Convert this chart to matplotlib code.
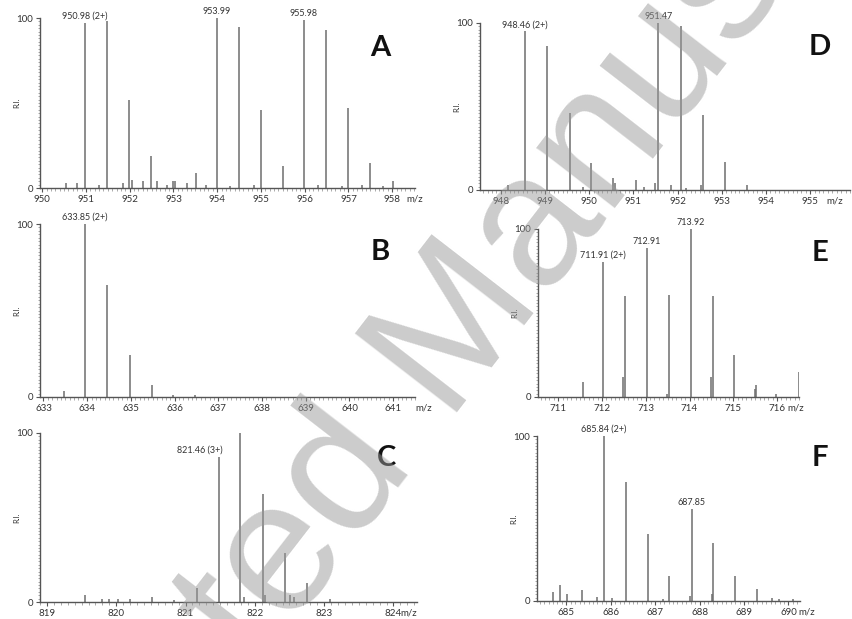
import numpy as np
import matplotlib
matplotlib.use("Agg")
import matplotlib.pyplot as plt
from matplotlib.ticker import MultipleLocator, FixedLocator

plt.rcParams['font.family'] = ['Lato', 'DejaVu Sans']

# ---- peak lists (m/z, relative intensity) ----
mzA = [950.55, 950.8, 950.98, 951.3, 951.48, 951.85, 951.98, 952.05, 952.3, 952.48,
       952.62, 952.85, 953.0, 953.03, 953.3, 953.52, 953.75, 953.99, 954.3, 954.49,
       954.85, 955.0, 955.51, 955.98, 956.3, 956.49, 956.85, 957.0, 957.3, 957.5,
       957.8, 958.02]
riA = [3, 3, 97, 2, 98, 3, 52, 5, 4, 19,
       4, 2, 4, 4, 3, 9, 2, 100, 1, 95,
       2, 46, 13, 99, 2, 93, 1, 47, 2, 15,
       1, 4]

mzB = [633.46, 633.95, 634.46, 634.97, 635.48, 635.97, 636.47]
riB = [3.5, 100, 65, 24.5, 7, 1, 1]

mzC = [819.55, 819.79, 819.89, 820.03, 820.2, 820.51, 820.83, 821.16, 821.48, 821.79,
       821.84, 822.12, 822.15, 822.43, 822.51, 822.56, 822.75, 823.09]
riC = [4, 2, 2, 2, 2, 3, 1, 8, 86, 100,
       3, 64, 4, 29, 4, 3, 11, 2]

mzD = [948.17, 948.55, 949.04, 949.56, 949.87, 950.05, 950.54, 950.59, 951.07, 951.24,
       951.5, 951.56, 951.84, 952.07, 952.18, 952.52, 952.57, 953.07, 953.56]
riD = [3, 95, 86, 46, 2, 16, 7, 4, 6, 2,
       4, 100, 3, 98, 1, 3, 45, 17, 3]

mzE = [711.56, 712.03, 712.48, 712.52, 713.03, 713.49, 713.53, 714.03, 714.5, 714.54,
       715.01, 715.49, 715.51, 715.98, 716.49]
riE = [9, 80.5, 12, 60, 88.5, 2, 61, 100, 12, 60,
       25, 5, 7, 2, 15]

mzF = [684.70, 684.86, 685.02, 685.35, 685.68, 685.84, 686.02, 686.34, 686.83, 687.18,
       687.32, 687.79, 687.82, 688.27, 688.31, 688.8, 689.3, 689.62, 689.79, 690.11]
riF = [5.5, 9.5, 4, 6.5, 2.5, 100, 2, 72, 40.5, 1,
       15, 3, 55.5, 4, 35, 15, 7.5, 2, 1.5, 1]

# annotated peaks: text and the m/z it sits over
annA = [("950.98 (2+)", 950.98), ("953.99", 953.99), ("955.98", 955.98)]
annB = [("633.85 (2+)", 633.95)]
annC = [("821.46 (3+)", 821.53)]
annD = [("948.46 (2+)", 948.55), ("951.47", 951.56)]
annE = [("711.91 (2+)", 712.03), ("712.91", 713.03), ("713.92", 714.03)]
annF = [("685.84 (2+)", 685.84), ("687.85", 687.82)]

ticksA = list(range(950, 959))
ticksB = list(range(633, 642))
ticksC = list(range(819, 825))
ticksD = list(range(948, 956))
ticksE = list(range(711, 717))
ticksF = list(range(685, 691))

W, H = 852, 619
fig = plt.figure(figsize=(W / 100, H / 100), dpi=100)

ink = '#555555'
peakc = '#6e6e6e'
txt = '#333333'

# panel: letter, rect in pixels (x0, top, x1, bottom), xlim, data, ticks, annotations, m/z label pos
panels = [
    ("A", (40, 18, 415, 188), (949.95, 958.52), mzA, riA, ticksA, annA, 958.52),
    ("B", (40, 224, 415, 397), (632.92, 641.5), mzB, riB, ticksB, annB, 641.69),
    ("C", (40, 433, 417, 602), (818.9, 824.34), mzC, riC, ticksC, annC, 824.22),
    ("D", (480, 23, 850, 190), (947.53, 955.9), mzD, riD, ticksD, annD, 955.56),
    ("E", (538, 229, 799, 397), (710.54, 716.5), mzE, riE, ticksE, annE, 716.43),
    ("F", (537, 436, 800, 601), (684.34, 690.26), mzF, riF, ticksF, annF, 690.41),
]

for letter, (x0, top, x1, bot), xlim, mz, ri, ticks, ann, mzpos in panels:
    ax = fig.add_axes([x0 / W, 1 - bot / H, (x1 - x0) / W, (bot - top) / H])
    ax.set_facecolor('none')
    ax.vlines(mz, 0, ri, color=peakc, lw=1.1, zorder=2)
    ax.set_xlim(*xlim)
    ax.set_ylim(0, 100)
    for s in ['top', 'right']:
        ax.spines[s].set_visible(False)
    for s in ['left', 'bottom']:
        ax.spines[s].set_color(ink)
        ax.spines[s].set_linewidth(1.0)
    ax.xaxis.set_major_locator(FixedLocator(ticks))
    ax.xaxis.set_minor_locator(MultipleLocator(0.1))
    ax.yaxis.set_major_locator(FixedLocator([0, 100]))
    ax.yaxis.set_minor_locator(MultipleLocator(2))
    ax.tick_params(axis='both', which='major', length=3, width=0.8, color=ink,
                   labelsize=7, labelcolor=txt, pad=2)
    ax.tick_params(axis='both', which='minor', length=1.8, width=0.5, color='#888888')
    ax.set_ylabel("R.I.", fontsize=5.5, color=txt)
    ax.yaxis.set_label_coords(-20 / (x1 - x0), 0.5)
    # m/z axis label at the right end
    ax.annotate("m/z", xy=(mzpos, 0), xycoords=('data', 'axes fraction'),
                xytext=(0, -4.5), textcoords='offset points', ha='center',
                va='top', fontsize=7, color=txt, annotation_clip=False)
    # peak annotations
    for label, x in ann:
        h = max(r for m, r in zip(mz, ri) if abs(m - x) < 0.06)
        ha = 'right' if letter == "C" else 'center'
        ax.annotate(label, xy=(x, h), xytext=(0, 1.5), textcoords='offset points',
                    ha=ha, va='bottom', fontsize=6.5, color=txt, annotation_clip=False)

# panel letters placed in figure pixels
letters = {"A": (380, 48), "B": (380, 252), "C": (387, 458),
           "D": (820, 47), "E": (820, 253), "F": (820, 458)}
for k, (px, py) in letters.items():
    fig.text(px / W, 1 - py / H, k, fontsize=21, fontweight='bold', color='#111111',
             ha='center', va='center')

# watermark
fig.text(435 / W, 1 - 362 / H, "Accepted Manuscript", rotation=52.3, fontsize=135,
         family='Liberation Sans', color='#999999', alpha=0.5,
         ha='center', va='center', zorder=10)

fig.savefig("out.png", dpi=100)
